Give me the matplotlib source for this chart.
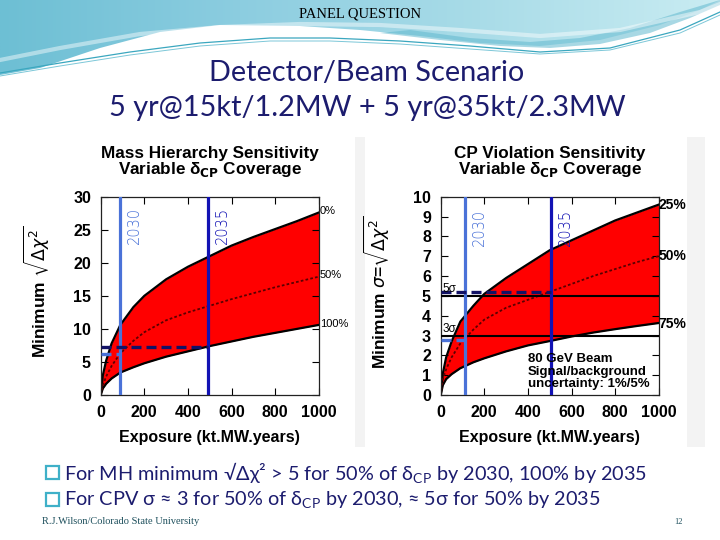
import matplotlib
matplotlib.use("Agg")
import matplotlib.pyplot as plt
import numpy as np
from matplotlib.patches import Polygon, Rectangle
from matplotlib.colors import LinearSegmentedColormap

# ---------------- data ----------------
exposure = [0, 10, 25, 50, 90, 150, 200, 300, 400, 500, 600, 700, 800, 900, 1000]

mh_cov0 = [0, 3.0, 5.2, 7.8, 10.6, 13.3, 15.0, 17.5, 19.4, 21.0, 22.6, 23.9, 25.1, 26.3, 27.6]
mh_cov50 = [0, 1.5, 2.8, 4.4, 6.3, 8.2, 9.5, 11.3, 12.5, 13.5, 14.5, 15.4, 16.3, 17.1, 17.9]
mh_cov100 = [0, 1.0, 1.7, 2.5, 3.4, 4.2, 4.8, 5.8, 6.6, 7.4, 8.1, 8.8, 9.4, 10.0, 10.6]

cpv_cov25 = [0, 1.1, 1.9, 2.7, 3.7, 4.5, 5.1, 5.9, 6.6, 7.3, 7.8, 8.3, 8.8, 9.2, 9.6]
cpv_cov50 = [0, 0.8, 1.3, 1.9, 2.6, 3.3, 3.8, 4.4, 4.8, 5.2, 5.6, 6.0, 6.35, 6.7, 7.0]
cpv_cov75 = [0, 0.5, 0.8, 1.05, 1.35, 1.65, 1.85, 2.2, 2.5, 2.72, 2.95, 3.15, 3.32, 3.48, 3.63]

mh_year_x = [90, 490]          # 2030, 2035
mh_marks_y = [6.2, 7.3]        # dashed levels reached at 2030 / 2035
cpv_year_x = [110, 507]
cpv_marks_y = [2.78, 5.2]
cpv_sigma_levels = [3, 5]
year_labels = ["2030", "2035"]

mh_cov_labels = ["0%", "50%", "100%"]
cpv_cov_labels = ["25%", "50%", "75%"]

mh_xticks = [0, 200, 400, 600, 800, 1000]
mh_yticks = [0, 5, 10, 15, 20, 25, 30]
cpv_yticks = list(range(0, 11))

bullets = [
    r"For MH minimum √Δχ² > 5 for 50% of δ$_{\mathregular{CP}}$ by 2030, 100% by 2035",
    r"For CPV σ ≈ 3 for 50% of δ$_{\mathregular{CP}}$ by 2030, ≈ 5σ for 50% by 2035",
]

# ---------------- styling ----------------
NAVY = "#1c1c6e"
LBLUE = "#4a72d8"
DBLUE = "#1212b4"
DASHNAVY = "#121266"
W, H = 720, 540

fig = plt.figure(figsize=(7.2, 5.4), dpi=100)
fig.patch.set_facecolor("white")

# background / decoration axes in pixel coordinates
bg = fig.add_axes([0, 0, 1, 1], zorder=0)
bg.set_xlim(0, W)
bg.set_ylim(H, 0)
bg.axis("off")

wave_x = [0, 40, 100, 160, 220, 300, 360, 420, 480, 540, 600, 660, 700, 720]
wave_y = [75, 68, 48, 32, 25, 26, 30, 36, 43, 46, 40, 25, 10, 0]
poly = Polygon(list(zip([0] + wave_x + [720], [0] + wave_y + [0])), closed=True,
               facecolor="none", edgecolor="none")
bg.add_patch(poly)
grad = np.linspace(0, 1, 256)[None, :]
cm = LinearSegmentedColormap.from_list("hdr", ["#6dbfd4", "#8ccde0", "#a9dce8", "#c9ecf2"])
im = bg.imshow(grad, cmap=cm, extent=[0, 720, 80, 0], aspect="auto", zorder=1)
im.set_clip_path(poly)
band_x = [380, 440, 500, 550, 600, 650, 690, 720, 720, 680, 630, 580, 530, 470, 410]
band_y = [33, 40, 46, 48, 44, 33, 18, 5, 0, 12, 28, 38, 42, 38, 30]
bg.add_patch(Polygon(list(zip(band_x, band_y)), closed=True, facecolor="#62b9cf",
                     edgecolor="none", alpha=0.55, zorder=2))
bg.plot([0, 60, 140, 220, 300, 380, 460, 540, 620, 700, 720],
        [60, 48, 34, 27, 24, 25, 30, 36, 30, 12, 4], color="white", lw=3, alpha=0.45, zorder=3)
bg.plot([0, 60, 130, 200, 270, 330, 400, 470, 540, 610, 680, 720],
        [73, 63, 52, 43, 38, 38, 41, 46, 52, 48, 30, 12], color="#3ba7bf", lw=0.9, zorder=3)
bg.plot([0, 60, 130, 200, 270, 330, 400, 470, 540, 610, 680, 720],
        [76, 66, 55, 46, 41, 41, 44, 49, 54, 50, 33, 15], color="#7cc7d8", lw=0.7, zorder=3)

# chart image frames (very light grey edges)
bg.add_patch(Rectangle((355, 137), 10, 310, facecolor="#f3f3f3", edgecolor="none", zorder=1))
bg.add_patch(Rectangle((687, 137), 18, 310, facecolor="#f3f3f3", edgecolor="none", zorder=1))

# slide texts
bg.text(360, 14, "PANEL QUESTION", family="Liberation Serif", fontsize=10.5,
        ha="center", va="center", color="black", zorder=5)
bg.text(367, 73, "Detector/Beam Scenario", family="Lato", fontsize=20.8,
        ha="center", va="center", color=NAVY, zorder=5)
bg.text(367, 108, "5 yr@15kt/1.2MW + 5 yr@35kt/2.3MW", family="Lato", fontsize=20.8,
        ha="center", va="center", color=NAVY, zorder=5)
for i, b in enumerate(bullets):
    yy = 473 + i * 27
    bg.add_patch(Rectangle((46, yy - 7), 13, 13, facecolor="none", edgecolor="#3fb0c8",
                           lw=1.6, zorder=5))
    bg.text(64, yy, b, family="Lato", fontsize=14.3, ha="left", va="center",
            color=NAVY, zorder=5)
bg.text(42, 522, "R.J.Wilson/Colorado State University", family="Liberation Serif",
        fontsize=7.5, ha="left", va="center", color="#1d4f5c", zorder=5)
bg.text(678, 522, "12", family="Liberation Serif", fontsize=6, ha="center",
        va="center", color="#1d4f5c", zorder=5)

plt.rcParams["font.family"] = ["Liberation Sans", "DejaVu Sans"]


def style_axes(ax, ymax, yticks):
    ax.set_xlim(0, 1000)
    ax.set_ylim(0, ymax)
    ax.set_xticks(mh_xticks)
    ax.set_yticks(yticks)
    ax.tick_params(direction="in", length=5, width=0.8, top=True, right=True,
                   labelsize=11.5, pad=7)
    for lab in ax.get_xticklabels() + ax.get_yticklabels():
        lab.set_fontweight("bold")
    for s in ax.spines.values():
        s.set_linewidth(0.9)
        s.set_color("#222222")
    ax.set_xlabel("Exposure (kt.MW.years)", fontsize=11.5, fontweight="bold")
    ax.xaxis.set_label_coords(0.5, -0.175)


def add_title(ax, line1):
    ax.text(0.5, 1.09, line1 + "\nVariable δ$_{\\mathbf{CP}}$ Coverage",
            transform=ax.transAxes, ha="center", va="bottom", fontsize=12.3,
            fontweight="bold", linespacing=0.95)


# ---------------- left: mass hierarchy ----------------
ax1 = fig.add_axes([100.7 / W, 1 - 395 / H, 218 / W, 198.3 / H], zorder=2)
ax1.fill_between(exposure, mh_cov100, mh_cov0, color="#ff0000", lw=0, zorder=1)
ax1.plot(exposure, mh_cov0, color="black", lw=1.6, zorder=2)
ax1.plot(exposure, mh_cov100, color="black", lw=1.6, zorder=2)
ax1.plot(exposure, mh_cov50, color="#5a0000", lw=1.3, ls=(0, (1.5, 1.2)), zorder=2)
style_axes(ax1, 30, mh_yticks)
ax1.set_ylabel(r"Minimum $\sqrt{\Delta\chi^2}$", fontsize=12.5, fontweight="bold")
ax1.yaxis.set_label_coords(-0.225, 0.52)
add_title(ax1, "Mass Hierarchy Sensitivity")
cols = [LBLUE, DBLUE]
for xv, lab, c in zip(mh_year_x, year_labels, cols):
    ax1.axvline(xv, color=c, lw=2.3, zorder=4)
    ax1.annotate(lab, (xv, 30), xytext=(5, -7), textcoords="offset points",
                 rotation=90, ha="left", va="top", color=c, fontsize=10.5,
                 family="DejaVu Sans", fontweight="light")
ax1.plot([0, mh_year_x[1]], [mh_marks_y[1], mh_marks_y[1]], color=DASHNAVY, lw=2.4,
         ls=(0, (3, 1.5)), zorder=5, clip_on=False)
ax1.plot([0, mh_year_x[0]], [mh_marks_y[0], mh_marks_y[0]], color=LBLUE, lw=2.4,
         ls=(0, (3, 1.5)), zorder=5, clip_on=False)
for lab, yv in zip(mh_cov_labels, [mh_cov0[-1], mh_cov50[-1], mh_cov100[-1]]):
    ax1.annotate(lab, (1000, yv), xytext=(1, 1), textcoords="offset points",
                 ha="left", va="center", fontsize=8, annotation_clip=False)

# ---------------- right: CP violation ----------------
ax2 = fig.add_axes([440.7 / W, 1 - 395 / H, 218 / W, 198.3 / H], zorder=2)
ax2.fill_between(exposure, cpv_cov75, cpv_cov25, color="#ff0000", lw=0, zorder=1)
ax2.plot(exposure, cpv_cov25, color="black", lw=1.6, zorder=2)
ax2.plot(exposure, cpv_cov75, color="black", lw=1.6, zorder=2)
ax2.plot(exposure, cpv_cov50, color="#5a0000", lw=1.3, ls=(0, (1.5, 1.2)), zorder=2)
style_axes(ax2, 10, cpv_yticks)
ax2.set_ylabel(r"Minimum $\sigma$=$\sqrt{\Delta\chi^2}$", fontsize=12.5, fontweight="bold")
ax2.yaxis.set_label_coords(-0.225, 0.52)
add_title(ax2, "CP Violation Sensitivity")
for lv in cpv_sigma_levels:
    ax2.axhline(lv, color="black", lw=1.5, zorder=3)
for xv, lab, c in zip(cpv_year_x, year_labels, cols):
    ax2.axvline(xv, color=c, lw=2.3, zorder=4)
    ax2.annotate(lab, (xv, 10), xytext=(5, -9), textcoords="offset points",
                 rotation=90, ha="left", va="top", color=c, fontsize=10.5,
                 family="DejaVu Sans", fontweight="light")
ax2.plot([0, cpv_year_x[1]], [cpv_marks_y[1], cpv_marks_y[1]], color=DASHNAVY, lw=2.4,
         ls=(0, (3, 1.5)), zorder=5)
ax2.plot([0, cpv_year_x[0]], [cpv_marks_y[0], cpv_marks_y[0]], color=LBLUE, lw=2.4,
         ls=(0, (3, 1.5)), zorder=5)
ax2.text(8, 5.05, "5σ", fontsize=8.5, ha="left", va="bottom", zorder=6)
ax2.text(8, 3.03, "3σ", fontsize=8.5, ha="left", va="bottom", zorder=6)
ax2.text(400, 2.1, "80 GeV Beam\nSignal/background\nuncertainty: 1%/5%", fontsize=9.5,
         fontweight="bold", ha="left", va="top", linespacing=1.05, zorder=6)
for lab, yv in zip(cpv_cov_labels, [cpv_cov25[-1], cpv_cov50[-1], cpv_cov75[-1] - 0.05]):
    ax2.annotate(lab, (1000, yv), xytext=(0, 0), textcoords="offset points",
                 ha="left", va="center", fontsize=10, fontweight="bold",
                 annotation_clip=False)

fig.savefig("out.png", dpi=100)
